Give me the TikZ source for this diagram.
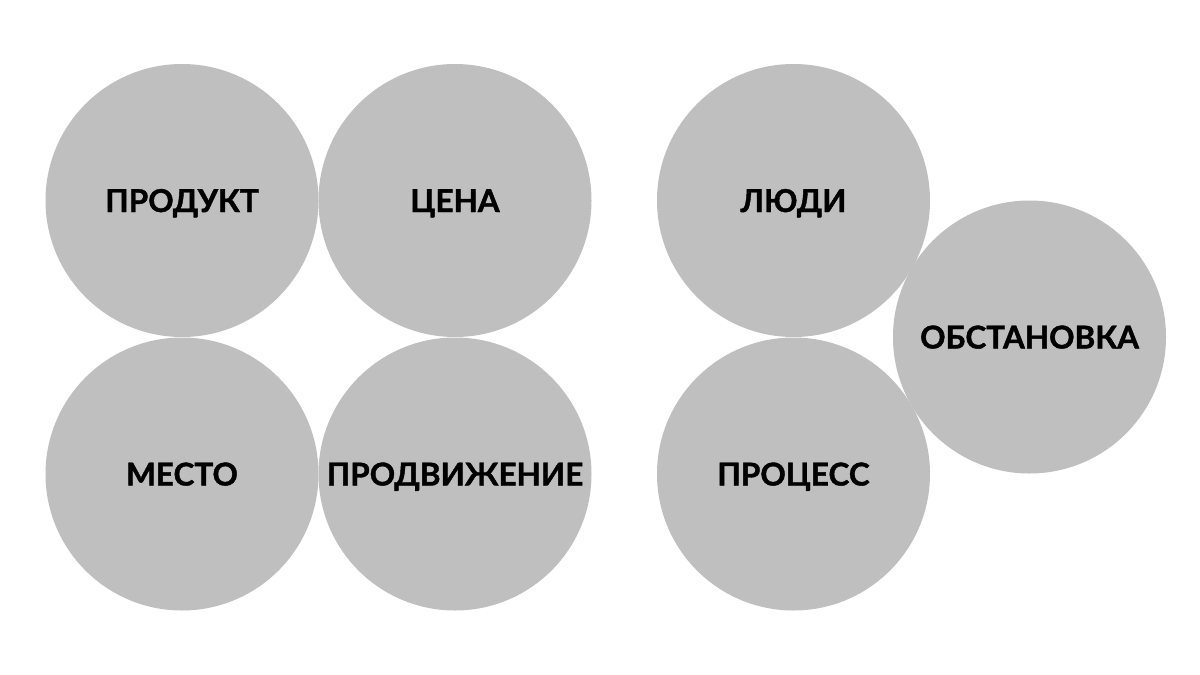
\documentclass[tikz,border=0pt]{standalone}
\usepackage{fontspec}
\setmainfont{Lato}[BoldFont={Lato Bold}, BoldFeatures={FakeBold=1.3}]
\definecolor{disc}{RGB}{191,191,191}
\tikzset{
  disc/.style={circle, fill=disc, draw=none, minimum size=273pt, inner sep=0pt,
    font=\fontsize{31.5}{31.5}\selectfont\bfseries, text=black,
    text height=23pt, text depth=0pt}
}
\begin{document}
\begin{tikzpicture}[x=1pt,y=-1pt]
\useasboundingbox (0,0) rectangle (1200,675);
\fill[white] (0,0) rectangle (1200,675);
\node[disc] (produkt) at (182,200.5) {ПРОДУКТ};
\node[disc] (tsena) at (455,200.5) {ЦЕНА};
\node[disc] (mesto) at (182,474) {МЕСТО};
\node[disc] (prodv) at (455,474) {ПРОДВИЖЕНИЕ};
\node[disc] (lyudi) at (793.5,200.5) {ЛЮДИ};
\node[disc] (protsess) at (793.5,474) {ПРОЦЕСС};
\node[disc] (obst) at (1029.5,337) {ОБСТАНОВКА};
\end{tikzpicture}
\end{document}
